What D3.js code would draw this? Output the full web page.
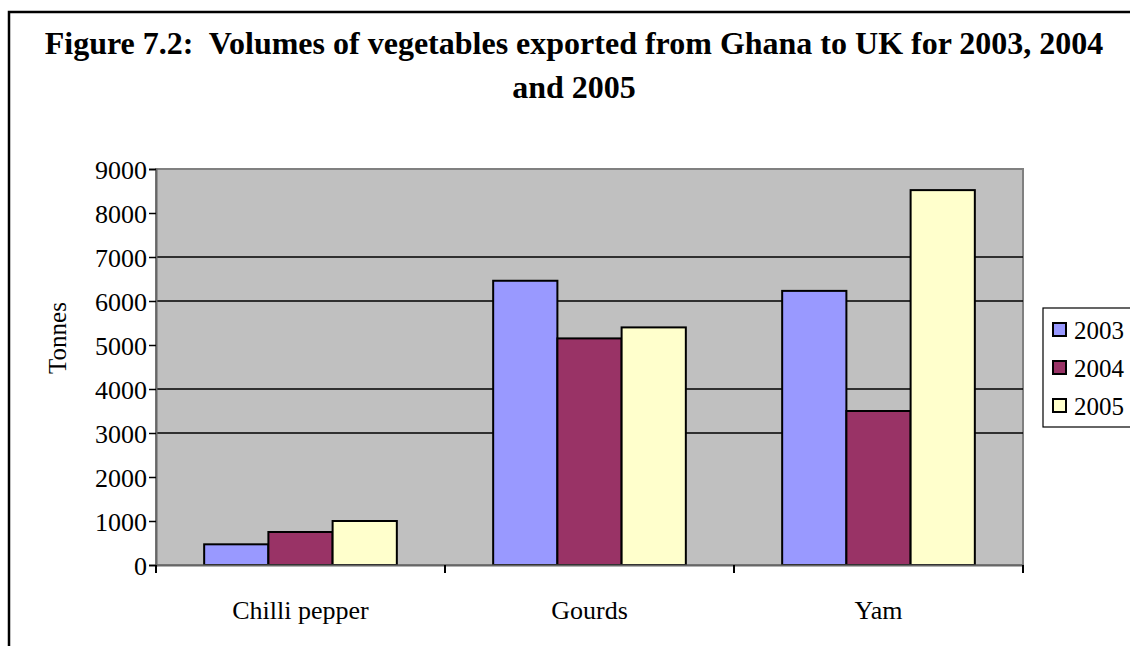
<!DOCTYPE html>
<html>
<head>
<meta charset="utf-8">
<script src="https://cdn.jsdelivr.net/npm/d3@7"></script>
<style>
  html, body { margin: 0; padding: 0; background: #fff; }
  svg { display: block; }
</style>
</head>
<body>
<svg id="chart" width="1130" height="646"></svg>
<script>
const categories = ["Chilli pepper", "Gourds", "Yam"];
const years = ["2003", "2004", "2005"];
const values2003 = [470, 6460, 6230];
const values2004 = [750, 5150, 3500];
const values2005 = [1000, 5400, 8520];
const yTicks = [0, 1000, 2000, 3000, 4000, 5000, 6000, 7000, 8000, 9000];
const gridTicks = [3000, 4000, 6000, 7000];
const colors = ["#9999FF", "#993366", "#FFFFCC"];
const titleLines = ["Figure 7.2:  Volumes of vegetables exported from Ghana to UK for 2003, 2004", "and 2005"];
const yLabel = "Tonnes";

(function () {
const FONT = "'Liberation Serif', 'Times New Roman', serif";
const series = [values2003, values2004, values2005];
const svg = d3.select("#chart");

// outer frame
svg.append("rect").attr("x", 9).attr("y", 12).attr("width", 1140).attr("height", 700)
  .attr("fill", "none").attr("stroke", "#000").attr("stroke-width", 2.5);

// title
svg.append("g").selectAll("text").data(titleLines).join("text")
  .attr("x", 574).attr("y", (d, i) => 54 + i * 44)
  .attr("text-anchor", "middle").attr("font-weight", "bold").attr("font-size", 32)
  .attr("font-family", FONT).attr("fill", "#000")
  .style("white-space", "pre")
  .text(d => d);

const pL = 156, pR = 1023, pT = 169, pB = 565;
const x0 = d3.scaleBand().domain(categories).range([pL, pR]);
const x1 = d3.scaleBand().domain(years).range([0, x0.bandwidth()]).paddingInner(0).paddingOuter(0.75);
const y = d3.scaleLinear().domain([0, 9000]).range([pB, pT]);

// plot area
svg.append("rect").attr("x", pL).attr("y", pT).attr("width", pR - pL).attr("height", pB - pT)
  .attr("fill", "#C0C0C0").attr("stroke", "#808080").attr("stroke-width", 2);

// gridlines
svg.append("g").selectAll("line").data(gridTicks).join("line")
  .attr("x1", pL).attr("x2", pR).attr("y1", d => y(d)).attr("y2", d => y(d))
  .attr("stroke", "#000").attr("stroke-width", 1.3);

// bars
const flat = [];
categories.forEach((c, ci) => years.forEach((yr, si) => flat.push({ c, yr, si, v: series[si][ci] })));
svg.append("g").selectAll("rect").data(flat).join("rect")
  .attr("x", d => x0(d.c) + x1(d.yr))
  .attr("y", d => y(d.v))
  .attr("width", x1.bandwidth())
  .attr("height", d => y(0) - y(d.v))
  .attr("fill", d => colors[d.si])
  .attr("stroke", "#000").attr("stroke-width", 2);

// y axis
const yAxis = d3.axisLeft(y).tickValues(yTicks).tickSize(7).tickPadding(2).tickFormat(d3.format("d"));
const gy = svg.append("g").attr("transform", `translate(${pL},0)`).call(yAxis)
  .attr("font-family", FONT);
gy.select(".domain").attr("stroke", "#666").attr("stroke-width", 2);
gy.selectAll(".tick line").attr("stroke", "#000").attr("stroke-width", 1.5);
gy.selectAll(".tick text").attr("font-size", 26).attr("font-family", FONT).attr("fill", "#000").attr("dy", "0.35em");

// x axis
const xAxis = d3.axisBottom(x0).tickSize(0).tickPadding(36);
const gx = svg.append("g").attr("transform", `translate(0,${pB})`).call(xAxis)
  .attr("font-family", FONT);
gx.select(".domain").attr("stroke", "#666").attr("stroke-width", 2);
gx.selectAll(".tick text").attr("font-size", 26).attr("font-family", FONT).attr("fill", "#000");
// category boundary ticks
const bounds = categories.map(c => x0(c)).concat([x0.range()[1]]);
svg.append("g").selectAll("line").data(bounds).join("line")
  .attr("x1", d => d).attr("x2", d => d).attr("y1", pB).attr("y2", pB + 8)
  .attr("stroke", "#000").attr("stroke-width", 2);

// y label
svg.append("text").attr("transform", "translate(66,338) rotate(-90)")
  .attr("text-anchor", "middle").attr("font-size", 25).attr("font-family", FONT).attr("fill", "#000")
  .text(yLabel);

// legend
const lg = svg.append("g");
lg.append("rect").attr("x", 1043).attr("y", 308).attr("width", 120).attr("height", 119)
  .attr("fill", "#fff").attr("stroke", "#000").attr("stroke-width", 1.2);
const items = lg.selectAll("g.item").data(years).join("g").attr("class", "item")
  .attr("transform", (d, i) => `translate(1053,${330 + i * 38})`);
items.append("rect").attr("x", 0).attr("y", -7).attr("width", 13).attr("height", 13)
  .attr("fill", (d, i) => colors[i]).attr("stroke", "#000").attr("stroke-width", 2);
items.append("text").attr("x", 21).attr("y", 0).attr("dy", "0.35em").attr("font-size", 25)
  .attr("font-family", FONT).attr("fill", "#000").text(d => d);
})();
</script>
</body>
</html>
